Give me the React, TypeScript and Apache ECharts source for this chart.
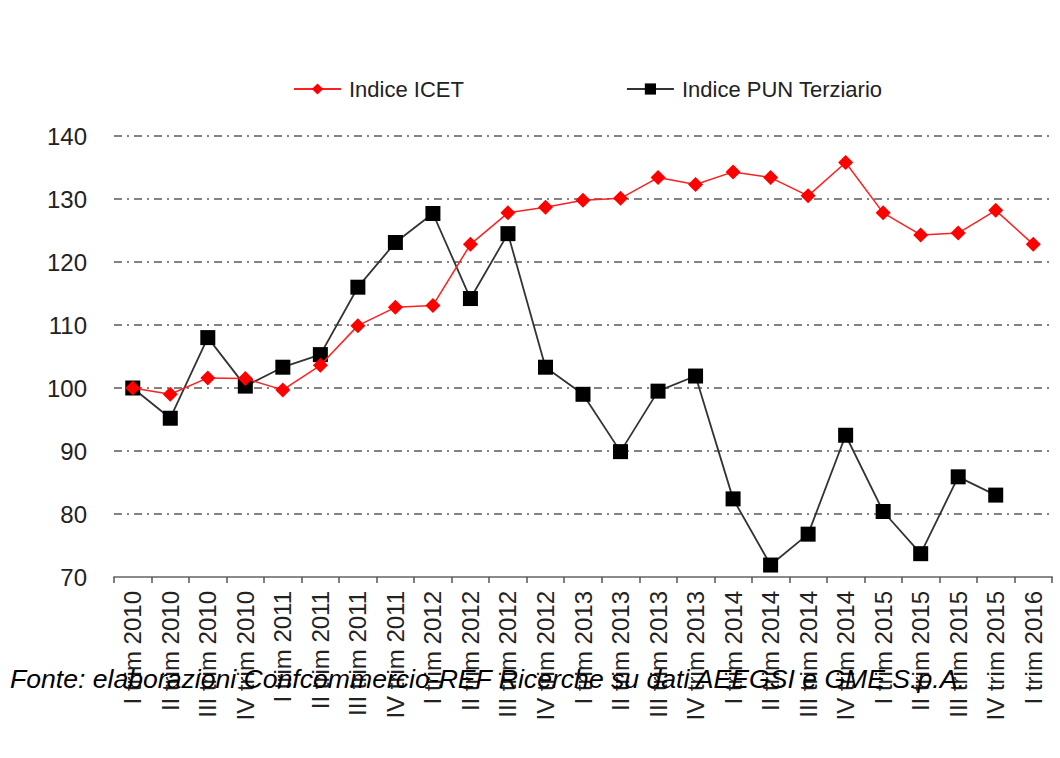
import React, { useEffect, useRef } from "react";
import * as echarts from "echarts";

const categories = [
  "I trim 2010", "II trim 2010", "III trim 2010", "IV trim 2010",
  "I trim 2011", "II trim 2011", "III trim 2011", "IV trim 2011",
  "I trim 2012", "II trim 2012", "III trim 2012", "IV trim 2012",
  "I trim 2013", "II trim 2013", "III trim 2013", "IV trim 2013",
  "I trim 2014", "II trim 2014", "III trim 2014", "IV trim 2014",
  "I trim 2015", "II trim 2015", "III trim 2015", "IV trim 2015",
  "I trim 2016",
];

const icet = [
  100, 99, 101.6, 101.5, 99.7, 103.6, 109.9, 112.8, 113.1, 122.8, 127.8, 128.7,
  129.8, 130.1, 133.4, 132.3, 134.3, 133.4, 130.5, 135.8, 127.8, 124.3, 124.6,
  128.2, 122.8,
];

const punTerziario = [
  100, 95.2, 108, 100.3, 103.3, 105.3, 116, 123.1, 127.7, 114.2, 124.5, 103.3,
  99, 89.9, 99.5, 101.9, 82.4, 71.9, 76.8, 92.5, 80.4, 73.7, 85.9, 83, null,
];

const seriesNames = ["Indice ICET", "Indice PUN Terziario"];
const sourceText =
  "Fonte: elaborazioni Confcommercio-REF Ricerche su dati AEEGSI e GME S.p.A.";

const FONT = "'Liberation Sans', Arial, sans-serif";

export default function App() {
  const ref = useRef<HTMLDivElement>(null);

  useEffect(() => {
    if (!ref.current) return;
    const chart = echarts.init(ref.current, null, { renderer: "svg" });
    chart.setOption({
      animation: false,
      backgroundColor: "#ffffff",
      textStyle: { fontFamily: FONT },
      legend: {
        left: 288,
        top: 73,
        itemWidth: 47,
        itemHeight: 14,
        itemGap: 162,
        textStyle: { fontSize: 22, color: "#222", fontFamily: FONT, padding: [0, 0, 0, 3] },
        data: seriesNames,
      },
      grid: { left: 114, right: 8, top: 136, bottom: 181 },
      xAxis: {
        type: "category",
        data: categories,
        boundaryGap: true,
        axisLine: { lineStyle: { color: "#8a8a8a", width: 2 } },
        axisTick: { show: true, length: 6, lineStyle: { color: "#555", width: 1.5 } },
        axisLabel: {
          rotate: 90,
          interval: 0,
          margin: 14,
          fontSize: 24,
          color: "#222",
          fontFamily: FONT,
        },
      },
      yAxis: {
        type: "value",
        min: 70,
        max: 140,
        interval: 10,
        axisLine: { show: false },
        axisTick: { show: false },
        axisLabel: { fontSize: 24, color: "#222", margin: 27, fontFamily: FONT },
        splitLine: {
          show: true,
          lineStyle: { color: "#5a5a5a", width: 1.7, type: [8, 5, 2, 5] },
        },
      },
      series: [
        {
          name: seriesNames[0],
          type: "line",
          data: icet,
          symbol: "diamond",
          symbolSize: 15,
          itemStyle: { color: "#ff0000" },
          lineStyle: { color: "#ff2020", width: 1.5 },
          z: 3,
        },
        {
          name: seriesNames[1],
          type: "line",
          data: punTerziario,
          symbol: "rect",
          symbolSize: 15,
          itemStyle: { color: "#000000" },
          lineStyle: { color: "#333333", width: 1.8 },
          z: 2,
        },
      ],
      graphic: [
        {
          type: "text",
          left: 10,
          top: 665,
          z: 100,
          style: {
            text: sourceText,
            font: `italic 26.6px ${FONT}`,
            fill: "#000",
          },
        },
      ],
    });
    return () => chart.dispose();
  }, []);

  return (
    <div
      ref={ref}
      style={{ position: "fixed", left: 0, top: 0, width: 1060, height: 758 }}
    />
  );
}
